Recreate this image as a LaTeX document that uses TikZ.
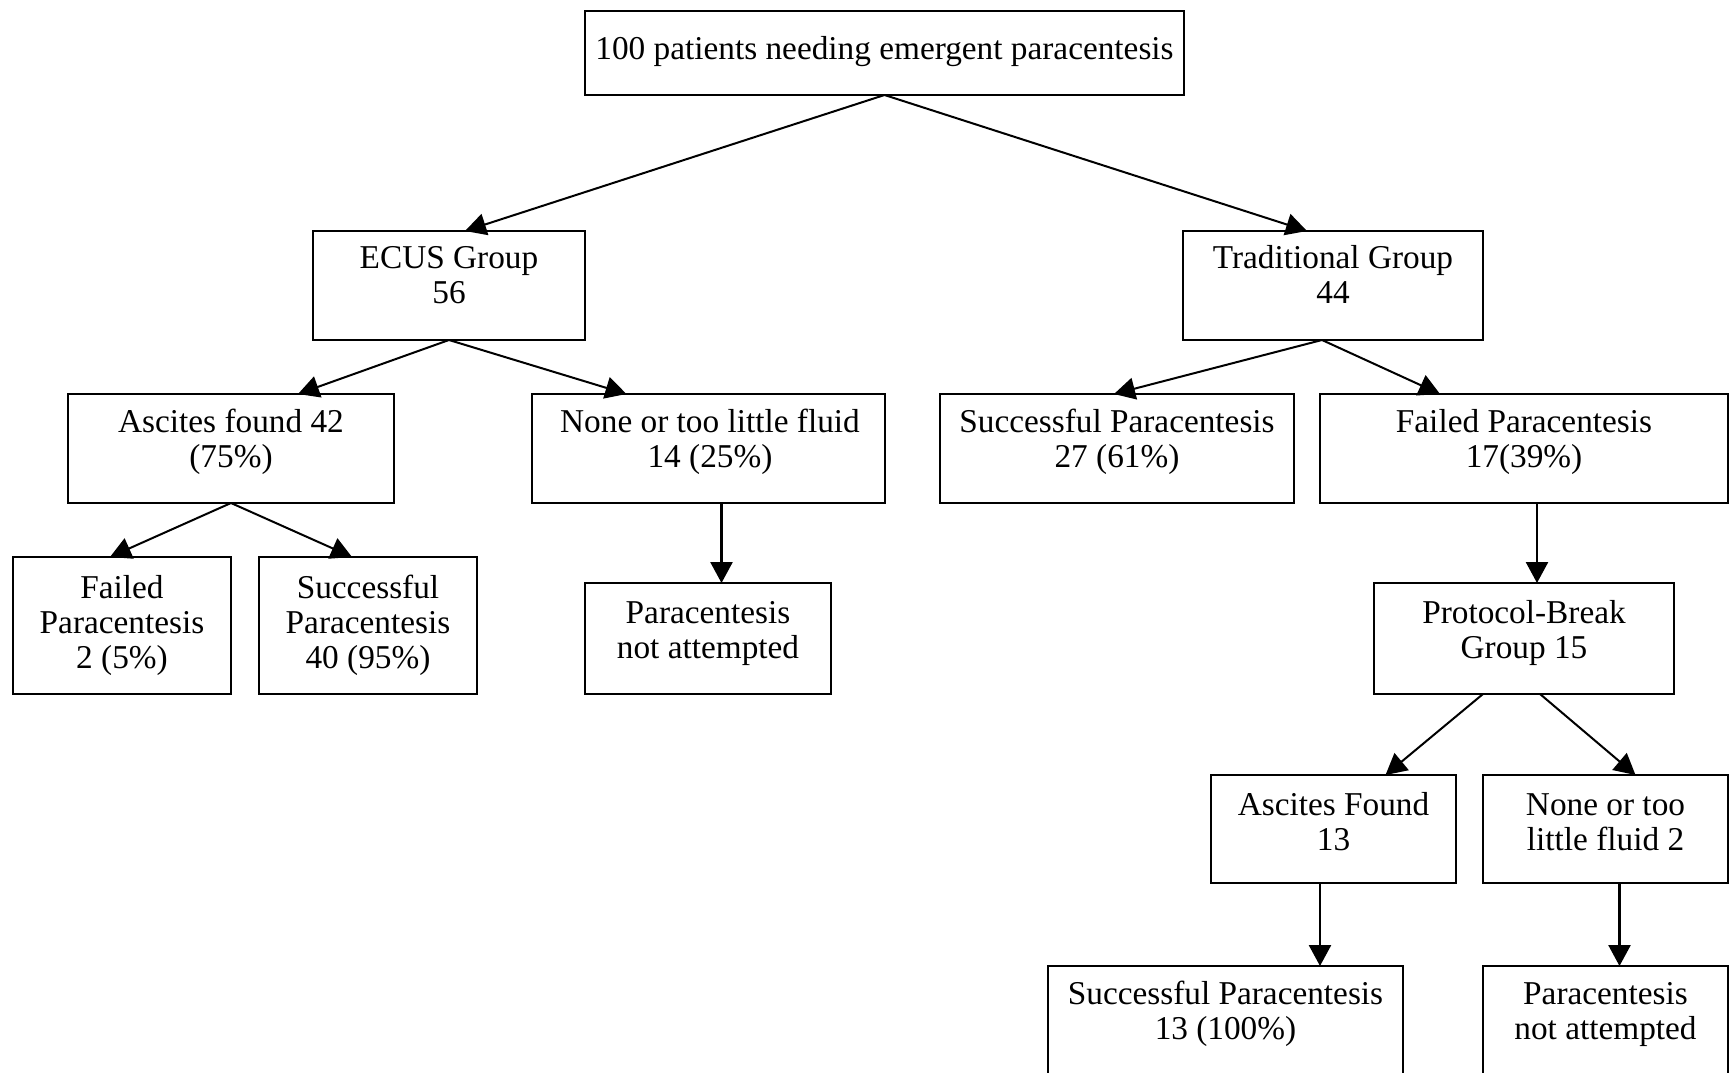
\documentclass[tikz,border=0pt]{standalone}
\usepackage{fontspec}
\setmainfont{Liberation Serif}
\usetikzlibrary{arrows.meta,calc}
\newcommand\toprl{\rule{0pt}{24pt}}
\begin{document}
\begin{tikzpicture}[x=1pt,y=-1pt,
  box/.style={draw, rectangle, line width=2.8pt, inner sep=0pt, outer sep=0pt},
  lbl/.style={anchor=north, align=center, inner sep=0pt, font=\fontsize{33.3pt}{35pt}\selectfont},
  arr/.style={line width=2pt, -{Triangle[length=21pt,width=22pt]}},
  varr/.style={arr, line width=2.6pt}]
\useasboundingbox (0,0) rectangle (1730,1073);
\clip (0,0) rectangle (1730,1073);
% boxes
\node[box, minimum width=599pt, minimum height=84pt]  (top)    at (884.5,53) {};
\node[box, minimum width=272pt, minimum height=109pt] (ecus)   at (449,285.5) {};
\node[box, minimum width=300pt, minimum height=109pt] (trad)   at (1333,285.5) {};
\node[box, minimum width=326pt, minimum height=109pt] (asc)    at (231,448.5) {};
\node[box, minimum width=353pt, minimum height=109pt] (none)   at (708.5,448.5) {};
\node[box, minimum width=354pt, minimum height=109pt] (succ27) at (1117,448.5) {};
\node[box, minimum width=408pt, minimum height=109pt] (fail17) at (1524,448.5) {};
\node[box, minimum width=218pt, minimum height=137pt] (fail2)  at (122,625.5) {};
\node[box, minimum width=218pt, minimum height=137pt] (succ40) at (368,625.5) {};
\node[box, minimum width=246pt, minimum height=111pt] (pna)    at (708,638.5) {};
\node[box, minimum width=300pt, minimum height=111pt] (prot)   at (1524,638.5) {};
\node[box, minimum width=245pt, minimum height=108pt] (ascF)   at (1333.5,829) {};
\node[box, minimum width=245pt, minimum height=108pt] (none2)  at (1605.5,829) {};
\node[box, minimum width=355pt, minimum height=110pt] (succ13) at (1225.5,1021) {};
\node[box, minimum width=245pt, minimum height=110pt] (pna2)   at (1605.5,1021) {};
% labels
\node[lbl] (topT)    at (884.5,35) {\toprl 100 patients needing emergent paracentesis};
\node[lbl] (ecusT)   at (449,244) {\toprl ECUS Group\\56};
\node[lbl] (tradT)   at (1333,244) {\toprl Traditional Group\\44};
\node[lbl] (ascT)    at (231,408) {\toprl Ascites found 42\\(75\%)};
\node[lbl] (noneT)   at (710,408) {\toprl None or too little fluid\\14 (25\%)};
\node[lbl] (succ27T) at (1117,408) {\toprl Successful Paracentesis\\27 (61\%)};
\node[lbl] (fail17T) at (1524,408) {\toprl Failed Paracentesis\\17(39\%)};
\node[lbl] (fail2T)  at (122,574) {\toprl Failed\\Paracentesis\\2 (5\%)};
\node[lbl] (succ40T) at (368,574) {\toprl Successful\\Paracentesis\\40 (95\%)};
\node[lbl] (pnaT)    at (708,599) {\toprl Paracentesis\\not attempted};
\node[lbl] (protT)   at (1524,599) {\toprl Protocol-Break\\Group 15};
\node[lbl] (ascFT)   at (1333.5,791) {\toprl Ascites Found\\13};
\node[lbl] (none2T)  at (1605.5,791) {\toprl None or too\\little fluid 2};
\node[lbl] (succ13T) at (1225.5,980) {\toprl Successful Paracentesis\\13 (100\%)};
\node[lbl] (pna2T)   at (1605.5,980) {\toprl Paracentesis\\not attempted};
% connectors
\draw[arr] (top.south) -- ([xshift=16pt]ecus.north);
\draw[arr] (top.south) -- ([xshift=-26pt]trad.north);
\draw[arr] (ecus.south) -- ([xshift=67pt]asc.north);
\draw[arr] (ecus.south) -- ([xshift=-82pt]none.north);
\draw[arr] ([xshift=-11pt]trad.south) -- ([xshift=-3pt]succ27.north);
\draw[arr] ([xshift=-11pt]trad.south) -- ([xshift=-84pt]fail17.north);
\draw[arr] (asc.south) -- ([xshift=-12pt]fail2.north);
\draw[arr] (asc.south) -- ([xshift=-16pt]succ40.north);
\draw[varr] ([xshift=13pt]none.south) -- ([xshift=13pt]none.south |- pna.north);
\draw[varr] ([xshift=13pt]fail17.south) -- ([xshift=13pt]fail17.south |- prot.north);
\draw[arr] ([xshift=-41pt]prot.south) -- ([xshift=52pt]ascF.north);
\draw[arr] ([xshift=16pt]prot.south) -- ([xshift=30pt]none2.north);
\draw[varr] ([xshift=-13.5pt]ascF.south) -- ([xshift=-13.5pt]ascF.south |- succ13.north);
\draw[varr] ([xshift=14pt]none2.south) -- ([xshift=14pt]none2.south |- pna2.north);
\end{tikzpicture}
\end{document}
